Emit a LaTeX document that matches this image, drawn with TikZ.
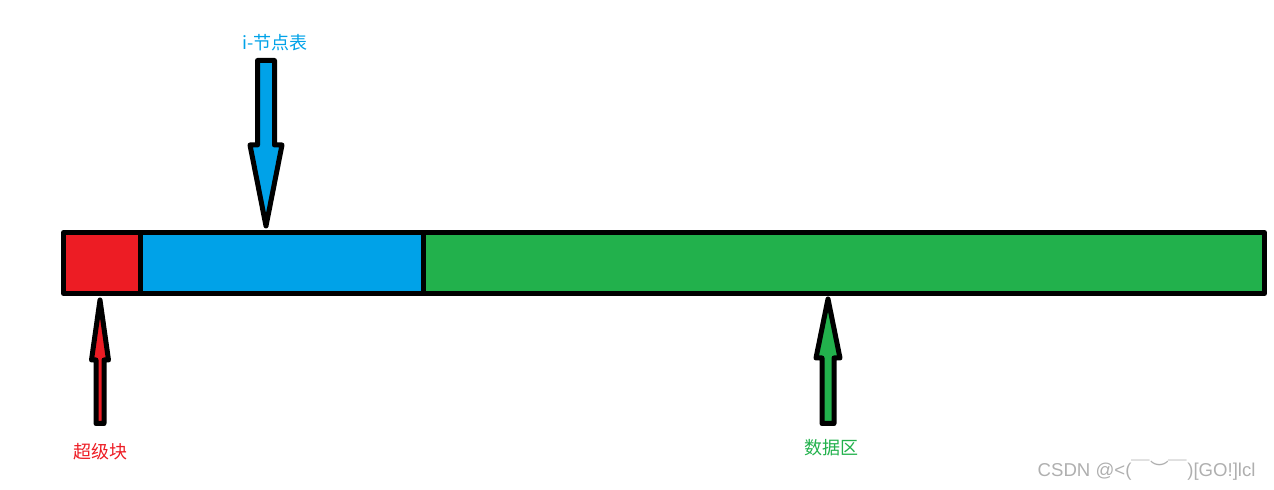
\documentclass[tikz,border=0pt]{standalone}
\usepackage{fontspec}
\setmainfont{Noto Sans CJK SC}
\newfontfamily\markfont{Liberation Sans}
\definecolor{superred}{RGB}{237,28,36}
\definecolor{inodeblue}{RGB}{0,162,232}
\definecolor{datagreen}{RGB}{34,177,76}
\definecolor{markgray}{RGB}{175,175,175}

\begin{document}
\begin{tikzpicture}[x=0.5pt,y=-0.5pt,line width=2.5pt,line join=round,font=\fontsize{9pt}{10pt}\selectfont]
\useasboundingbox (0,0) rectangle (1274,490);

% the disk, split in three parts
\filldraw[fill=superred] (63.5,232.5) rectangle (140.5,293.5);
\filldraw[fill=inodeblue] (140.5,232.5) rectangle (423.5,293.5);
\filldraw[fill=datagreen] (423.5,232.5) rectangle (1264.5,293.5);

% block arrows: colour / x / tail / base of head / tip / half shaft / half head
\foreach \c/\x/\tail/\base/\tip/\s/\h in {inodeblue/266/60.5/145/226/8.5/16,
	superred/100/423.5/360/300/4/8.5, datagreen/828/423.5/358/299/6/12} {
	\filldraw[fill=\c] (\x-\s,\tail) -- (\x-\s,\base) -- (\x-\h,\base) -- (\x,\tip)
		-- (\x+\h,\base) -- (\x+\s,\base) -- (\x+\s,\tail) -- cycle;
}

\node[text=inodeblue] (inodelabel) at (275,43) {i-节点表};
\node[text=superred] (superlabel) at (100,452) {超级块};
\node[text=datagreen] (datalabel) at (831,448) {数据区};
\node[text=markgray,anchor=east,inner sep=0pt] (mark) at (1258,470)
	{\markfont\fontsize{9.3pt}{10pt}\selectfont CSDN @<({\rmfamily ￣︶￣})[GO!]lcl};
\end{tikzpicture}
\end{document}
